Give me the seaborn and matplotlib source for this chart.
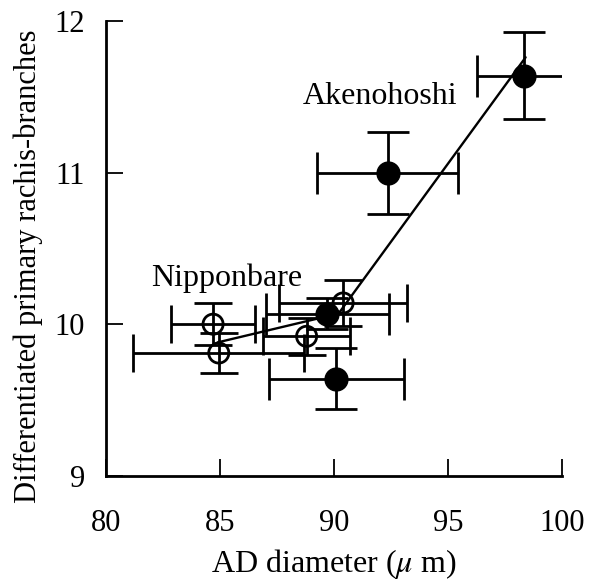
import matplotlib
matplotlib.use("Agg")
import matplotlib.pyplot as plt
import seaborn as sns
import pandas as pd
import numpy as np

# Akenohoshi (filled)
ake_x = [98.35, 92.35, 89.7, 90.1]
ake_y = [11.64, 11.0, 10.07, 9.64]
ake_xerr = [2.1, 3.1, 2.7, 2.95]
ake_yerr = [0.29, 0.27, 0.10, 0.20]

# Nipponbare (open)
nip_x = [84.7, 84.95, 88.8, 90.4]
nip_y = [10.0, 9.81, 9.92, 10.14]
nip_xerr = [1.85, 3.75, 1.9, 2.8]
nip_yerr = [0.14, 0.13, 0.12, 0.15]

# connecting line
line_x = [84.9, 90.2, 98.4]
line_y = [9.88, 10.07, 11.76]

sns.set_theme(style="ticks")
plt.rcParams['font.family'] = ['Liberation Serif', 'DejaVu Serif']
plt.rcParams['mathtext.fontset'] = 'stix'
plt.rcParams['text.color'] = 'black'
plt.rcParams['axes.labelcolor'] = 'black'

fig = plt.figure(figsize=(5.98, 5.81), dpi=100)
ax = fig.add_axes([0.177, 0.181, 0.763, 0.783])

ax.errorbar(ake_x, ake_y, xerr=ake_xerr, yerr=ake_yerr, fmt='none',
            ecolor='black', elinewidth=2.0, capsize=15, capthick=2.0, zorder=2)
ax.errorbar(nip_x, nip_y, xerr=nip_xerr, yerr=nip_yerr, fmt='none',
            ecolor='black', elinewidth=2.0, capsize=14, capthick=2.0, zorder=2)

sns.lineplot(x=line_x, y=line_y, ax=ax, color='black', linewidth=1.7,
             sort=False, estimator=None, zorder=3)

sns.scatterplot(x=ake_x, y=ake_y, ax=ax, marker='o', s=270, color='black',
                edgecolor='black', linewidth=1, zorder=4)
sns.scatterplot(x=nip_x, y=nip_y, ax=ax, marker='o', s=210, facecolor='none',
                edgecolor='black', linewidth=2.0, zorder=4)

ax.text(92.0, 11.5, "Akenohoshi", fontsize=23, ha='center', va='center')
ax.text(85.3, 10.3, "Nipponbare", fontsize=23, ha='center', va='center')

ax.set_xlim(80, 100)
ax.set_ylim(9, 12)
ax.set_xticks([80, 85, 90, 95, 100])
ax.set_yticks([9, 10, 11, 12])
ax.tick_params(direction='in', length=12, width=1.3, labelsize=22, colors='black')
ax.tick_params(axis='x', pad=24)
ax.tick_params(axis='y', pad=15)
ax.set_xlabel(r"AD diameter ($\mu$ m)", fontsize=23, labelpad=6)
ax.set_ylabel("Differentiated primary rachis-branches", fontsize=22, labelpad=8, y=0.46)
for s in ['top', 'right']:
    ax.spines[s].set_visible(False)
for s in ['left', 'bottom']:
    ax.spines[s].set_linewidth(2.0)
    ax.spines[s].set_color('black')

fig.savefig("out.png", dpi=100)
